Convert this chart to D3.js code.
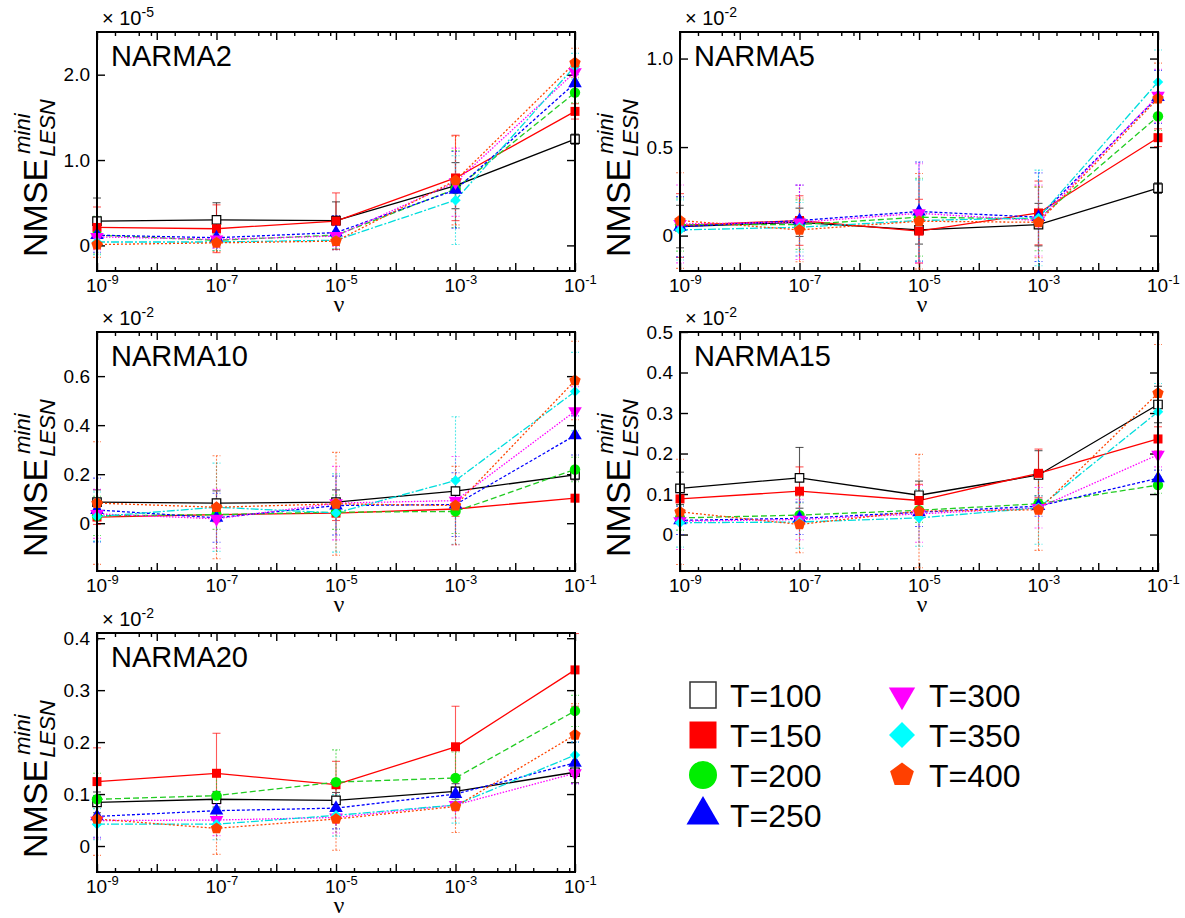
<!DOCTYPE html>
<html>
<head>
<meta charset="utf-8">
<script src="https://cdn.jsdelivr.net/npm/d3@7"></script>
<style>
  body { margin: 0; background: #fff; }
  svg { display: block; font-family: "Liberation Sans", Arial, sans-serif; }
</style>
</head>
<body>
<script>
// x values (regularisation parameter nu)
var nu = [1e-9, 1e-7, 1e-5, 1e-3, 1e-1];
var nuMajor = [1e-9, 1e-8, 1e-7, 1e-6, 1e-5, 1e-4, 1e-3, 1e-2, 1e-1];
var nuLabelled = [1e-9, 1e-7, 1e-5, 1e-3, 1e-1];
var seriesNames = ["T=100", "T=150", "T=200", "T=250", "T=300", "T=350", "T=400"];

// NARMA2 (x 1e-5)
var narma2Mean = [
  [0.285, 0.30, 0.29, 0.70, 1.244],
  [0.21, 0.195, 0.285, 0.79, 1.57],
  [0.12, 0.06, 0.12, 0.66, 1.79],
  [0.12, 0.09, 0.15, 0.65, 1.90],
  [0.10, 0.07, 0.11, 0.74, 2.03],
  [0.04, 0.04, 0.06, 0.53, 2.10],
  [0.01, 0.03, 0.05, 0.76, 2.14]
];
var narma2Err = [
  [0.27, 0.20, 0.22, 0.27, 0.06],
  [0.24, 0.28, 0.33, 0.50, 0.09],
  [0.22, 0.12, 0.12, 0.45, 0.12],
  [0.20, 0.12, 0.20, 0.45, 0.10],
  [0.15, 0.10, 0.12, 0.40, 0.12],
  [0.15, 0.10, 0.10, 0.52, 0.15],
  [0.15, 0.10, 0.10, 0.52, 0.17]
];
var narma2Ticks = [0, 1, 2];
var narma2TickLabels = ["0", "1.0", "2.0"];

// NARMA5 (x 1e-2)
var narma5Mean = [
  [0.051, 0.075, 0.032, 0.062, 0.268],
  [0.057, 0.085, 0.025, 0.128, 0.553],
  [0.062, 0.062, 0.104, 0.094, 0.674],
  [0.050, 0.085, 0.136, 0.104, 0.783],
  [0.066, 0.075, 0.126, 0.085, 0.790],
  [0.032, 0.047, 0.085, 0.100, 0.868],
  [0.085, 0.032, 0.081, 0.075, 0.774]
];
var narma5Err = [
  [0.12, 0.08, 0.08, 0.12, 0.03],
  [0.18, 0.14, 0.18, 0.18, 0.05],
  [0.15, 0.14, 0.22, 0.18, 0.08],
  [0.17, 0.20, 0.28, 0.25, 0.15],
  [0.22, 0.21, 0.28, 0.20, 0.15],
  [0.17, 0.14, 0.23, 0.27, 0.18],
  [0.27, 0.18, 0.27, 0.20, 0.20]
];
var narma5Ticks = [0, 0.5, 1.0];
var narma5TickLabels = ["0", "0.5", "1.0"];

// NARMA10 (x 1e-2)
var narma10Mean = [
  [0.086, 0.082, 0.086, 0.131, 0.197],
  [0.025, 0.035, 0.041, 0.058, 0.102],
  [0.030, 0.035, 0.045, 0.048, 0.219],
  [0.054, 0.022, 0.072, 0.076, 0.358],
  [0.038, 0.018, 0.082, 0.092, 0.457],
  [0.027, 0.065, 0.042, 0.174, 0.537],
  [0.082, 0.065, 0.079, 0.072, 0.582]
];
var narma10Err = [
  [0.05, 0.05, 0.05, 0.05, 0.02],
  [0.03, 0.03, 0.03, 0.03, 0.01],
  [0.08, 0.06, 0.07, 0.09, 0.05],
  [0.13, 0.10, 0.12, 0.13, 0.08],
  [0.10, 0.12, 0.15, 0.18, 0.10],
  [0.10, 0.18, 0.16, 0.26, 0.16],
  [0.25, 0.21, 0.21, 0.16, 0.16]
];
var narma10Ticks = [0, 0.2, 0.4, 0.6];
var narma10TickLabels = ["0", "0.2", "0.4", "0.6"];

// NARMA15 (x 1e-2)
var narma15Mean = [
  [0.114, 0.140, 0.097, 0.147, 0.321],
  [0.088, 0.107, 0.084, 0.151, 0.236],
  [0.041, 0.048, 0.060, 0.076, 0.122],
  [0.035, 0.040, 0.055, 0.070, 0.139],
  [0.033, 0.037, 0.051, 0.066, 0.197],
  [0.029, 0.031, 0.041, 0.066, 0.303],
  [0.056, 0.025, 0.058, 0.061, 0.349]
];
var narma15Err = [
  [0.04, 0.075, 0.035, 0.06, 0.045],
  [0.03, 0.06, 0.04, 0.06, 0.03],
  [0.03, 0.03, 0.03, 0.02, 0.02],
  [0.035, 0.04, 0.035, 0.025, 0.02],
  [0.07, 0.05, 0.07, 0.05, 0.03],
  [0.06, 0.065, 0.07, 0.09, 0.07],
  [0.13, 0.07, 0.14, 0.10, 0.12]
];
var narma15Ticks = [0, 0.1, 0.2, 0.3, 0.4, 0.5];
var narma15TickLabels = ["0", "0.1", "0.2", "0.3", "0.4", "0.5"];

// NARMA20 (x 1e-2)
var narma20Mean = [
  [0.084, 0.090, 0.088, 0.105, 0.142],
  [0.124, 0.140, 0.118, 0.191, 0.339],
  [0.090, 0.097, 0.123, 0.131, 0.260],
  [0.057, 0.068, 0.073, 0.100, 0.160],
  [0.049, 0.050, 0.055, 0.079, 0.140],
  [0.042, 0.042, 0.059, 0.079, 0.175],
  [0.052, 0.034, 0.052, 0.076, 0.214]
];
var narma20Err = [
  [0.02, 0.015, 0.015, 0.015, 0.02],
  [0.065, 0.077, 0.045, 0.078, 0.07],
  [0.05, 0.04, 0.062, 0.05, 0.03],
  [0.04, 0.03, 0.04, 0.03, 0.04],
  [0.035, 0.03, 0.03, 0.025, 0.02],
  [0.03, 0.03, 0.04, 0.035, 0.025],
  [0.07, 0.05, 0.06, 0.05, 0.06]
];
var narma20Ticks = [0, 0.1, 0.2, 0.3, 0.4];
var narma20TickLabels = ["0", "0.1", "0.2", "0.3", "0.4"];

// styles
var lineColors = ["#000000", "#ff0000", "#22cc22", "#0000ff", "#ff00ff", "#00dddd", "#ff4500"];
var markFill = ["#ffffff", "#ff0000", "#00ee00", "#0000ff", "#ff00ff", "#00ffff", "#ff4000"];
var dashes = [null, null, "6,3", "3,2", "1.5,1.5", "8,2,2,2", "2,2"];

var pentagon = {
  draw: function (context, size) {
    var r = Math.sqrt(size / 2.3776);
    for (var i = 0; i < 5; i++) {
      var a = -Math.PI / 2 + i * 2 * Math.PI / 5;
      if (i === 0) context.moveTo(r * Math.cos(a), r * Math.sin(a));
      else context.lineTo(r * Math.cos(a), r * Math.sin(a));
    }
    context.closePath();
  }
};
var symbolTypes = [d3.symbolSquare, d3.symbolSquare, d3.symbolCircle, d3.symbolTriangle,
                   d3.symbolTriangle, d3.symbolSquare, pentagon];
var symbolRotate = [0, 0, 0, 0, 180, 45, 0];
var plotSizes = [72, 81, 85, 80, 80, 55, 85];
var legendSizes = [676, 729, 616, 470, 300, 338, 372];

var panels = [
  {name: "NARMA2", mean: narma2Mean, err: narma2Err, domain: [-0.3, 2.5], ticks: narma2Ticks, tickLabels: narma2TickLabels, exp: "-5", left: 97, top: 32},
  {name: "NARMA5", mean: narma5Mean, err: narma5Err, domain: [-0.2, 1.15], ticks: narma5Ticks, tickLabels: narma5TickLabels, exp: "-2", left: 680, top: 32},
  {name: "NARMA10", mean: narma10Mean, err: narma10Err, domain: [-0.195, 0.78], ticks: narma10Ticks, tickLabels: narma10TickLabels, exp: "-2", left: 97, top: 332},
  {name: "NARMA15", mean: narma15Mean, err: narma15Err, domain: [-0.09, 0.5], ticks: narma15Ticks, tickLabels: narma15TickLabels, exp: "-2", left: 680, top: 332},
  {name: "NARMA20", mean: narma20Mean, err: narma20Err, domain: [-0.05, 0.41], ticks: narma20Ticks, tickLabels: narma20TickLabels, exp: "-2", left: 97, top: 633}
];

var pw = 478, ph = 239;

var svg = d3.select("body").append("svg")
    .attr("width", 1185)
    .attr("height", 918);

panels.forEach(drawPanel);
drawLegend();

function drawPanel(p) {
  var g = svg.append("g").attr("transform", "translate(" + p.left + "," + p.top + ")");
  var x = d3.scaleLog().domain([1e-9, 1e-1]).range([0, pw]);
  var y = d3.scaleLinear().domain(p.domain).range([ph, 0]);

  // minor x ticks at 2,5,8 x decade
  var minor = [];
  nuMajor.slice(0, -1).forEach(function (d) { [2, 5, 8].forEach(function (m) { minor.push(d * m); }); });

  function strip(a) { a.select(".domain").remove(); a.selectAll("line").attr("stroke-width", 1.4); }

  g.append("g").attr("transform", "translate(0," + ph + ")")
      .call(d3.axisBottom(x).tickValues(nuMajor).tickSize(-8).tickFormat("")).call(strip);
  g.append("g").attr("transform", "translate(0," + ph + ")")
      .call(d3.axisBottom(x).tickValues(minor).tickSize(-4).tickFormat("")).call(strip);
  g.append("g").call(d3.axisTop(x).tickValues(nuMajor).tickSize(-8).tickFormat("")).call(strip);
  g.append("g").call(d3.axisTop(x).tickValues(minor).tickSize(-4).tickFormat("")).call(strip);

  g.append("g")
      .call(d3.axisLeft(y).tickValues(p.ticks).tickSize(-8).tickPadding(7)
        .tickFormat(function (d, i) { return p.tickLabels[i]; }))
      .call(strip)
      .selectAll("text").attr("font-size", 19).attr("fill", "#000")
      .attr("font-family", "Liberation Sans, Arial, sans-serif");
  g.append("g").attr("transform", "translate(" + pw + ",0)")
      .call(d3.axisRight(y).tickValues(p.ticks).tickSize(-8).tickFormat("")).call(strip);

  // x tick labels 10^n
  var xl = g.append("g").selectAll("text").data(nuLabelled).enter().append("text")
      .attr("x", function (d) { return x(d) - 11; })
      .attr("y", ph + 21)
      .attr("font-size", 19);
  xl.append("tspan").text("10");
  xl.append("tspan").attr("font-size", 13).attr("dy", -8)
      .text(function (d) { return String(Math.round(Math.log10(d))); });

  // error bars
  var eg = g.append("g");
  p.mean.forEach(function (vals, i) {
    var s = eg.append("g")
        .attr("stroke", lineColors[i])
        .attr("stroke-opacity", 0.65)
        .attr("stroke-width", 1.1)
        .attr("stroke-dasharray", i < 2 ? null : "2,1.5");
    var pts = vals.map(function (v, j) { return {x: nu[j], v: v, e: p.err[i][j]}; });
    s.selectAll(".bar").data(pts).enter().append("line")
        .attr("x1", function (d) { return x(d.x); }).attr("x2", function (d) { return x(d.x); })
        .attr("y1", function (d) { return y(d.v - d.e); }).attr("y2", function (d) { return y(d.v + d.e); });
    [-1, 1].forEach(function (sign) {
      s.selectAll(".cap" + sign).data(pts).enter().append("line")
          .attr("x1", function (d) { return x(d.x) - 4; }).attr("x2", function (d) { return x(d.x) + 4; })
          .attr("y1", function (d) { return y(d.v + sign * d.e); }).attr("y2", function (d) { return y(d.v + sign * d.e); });
    });
  });

  // lines
  var line = d3.line().x(function (d, j) { return x(nu[j]); }).y(function (d) { return y(d); });
  p.mean.forEach(function (vals, i) {
    g.append("path").datum(vals)
        .attr("d", line)
        .attr("fill", "none")
        .attr("stroke", lineColors[i])
        .attr("stroke-width", 1.3)
        .attr("stroke-dasharray", dashes[i]);
  });

  // markers
  p.mean.forEach(function (vals, i) {
    g.append("g").selectAll("path").data(vals).enter().append("path")
        .attr("d", d3.symbol().type(symbolTypes[i]).size(plotSizes[i]))
        .attr("transform", function (d, j) {
          return "translate(" + x(nu[j]) + "," + y(d) + ") rotate(" + symbolRotate[i] + ")";
        })
        .attr("fill", markFill[i])
        .attr("stroke", i === 0 ? "#000" : "none")
        .attr("stroke-width", 1.2);
  });

  // frame
  g.append("rect").attr("width", pw).attr("height", ph)
      .attr("fill", "none").attr("stroke", "#000").attr("stroke-width", 2);

  // panel name
  g.append("text").attr("x", 14).attr("y", 34).attr("font-size", 29).text(p.name);

  // exponent label
  var ex = g.append("text").attr("x", 5).attr("y", -7).attr("font-size", 20);
  ex.append("tspan").text("\u00d7 10");
  ex.append("tspan").attr("font-size", 14).attr("dy", -8).text(p.exp);

  // x title
  g.append("text").attr("x", pw / 2 + 3).attr("y", ph + 41)
      .attr("text-anchor", "middle").attr("font-size", 24)
      .attr("font-family", "Liberation Serif, serif").text("\u03bd");

  // y title NMSE_LESN^mini
  var yt = g.append("g").attr("transform", "translate(-50," + (ph - 14) + ") rotate(-90)");
  var main = yt.append("text").attr("font-size", 34).text("NMSE");
  var wMain = main.node().getComputedTextLength();
  yt.append("text").attr("x", wMain + 2).attr("y", 8)
      .attr("font-size", 22).attr("font-style", "italic").text("LESN");
  yt.append("text").attr("x", wMain + 5).attr("y", -17)
      .attr("font-size", 22).attr("font-style", "italic").text("mini");
}

function drawLegend() {
  var cols = [703, 902];
  var rows = [695, 735, 775, 815];
  var lg = svg.append("g");
  seriesNames.forEach(function (name, i) {
    var c = i < 4 ? 0 : 1;
    var r = i < 4 ? i : i - 4;
    var cx = cols[c], cy = rows[r];
    lg.append("path")
        .attr("d", d3.symbol().type(symbolTypes[i]).size(legendSizes[i]))
        .attr("transform", "translate(" + cx + "," + cy + ") rotate(" + symbolRotate[i] + ")")
        .attr("fill", markFill[i])
        .attr("stroke", i === 0 ? "#333" : "none")
        .attr("stroke-width", 1.5);
    lg.append("text").attr("x", cx + 27).attr("y", cy + 12)
        .attr("font-size", 32).text(name);
  });
}
</script>
</body>
</html>
